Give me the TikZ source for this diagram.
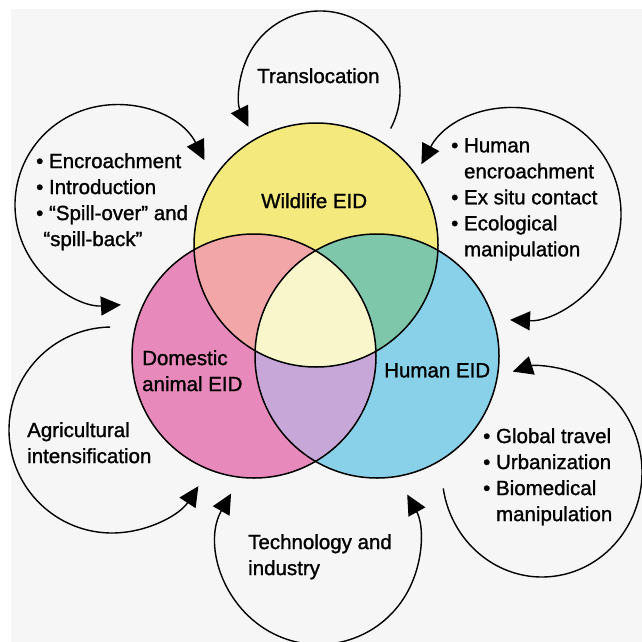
\documentclass[tikz,border=0pt]{standalone}
\usepackage{fontspec}
\setmainfont{Liberation Sans}
\newfontfamily\lblfont{Liberation Sans}[FakeBold=1.2]
\usetikzlibrary{arrows.meta,calc}
\definecolor{bgg}{HTML}{F6F6F6}
\definecolor{cwild}{HTML}{F4E97C}
\definecolor{cdom}{HTML}{E889BC}
\definecolor{chum}{HTML}{88D1E8}
\definecolor{cwd}{HTML}{F2A6A8}
\definecolor{cwh}{HTML}{7EC7AA}
\definecolor{cdh}{HTML}{C6A7D8}
\definecolor{call}{HTML}{F8F6CA}
\begin{document}
\begin{tikzpicture}[x=1pt,y=-1pt,
  lbl/.style={font=\lblfont\fontsize{20.5}{26}\selectfont, inner sep=0pt, align=left, anchor=north west},
  loopline/.style={line width=1.4pt, draw=black},
  venn/.style={line width=1.5pt, draw=black},
  >={Triangle[length=20pt,width=19pt]}]
\useasboundingbox (0,0) rectangle (642,642);
\fill[white] (0,0) rectangle (642,642);
\fill[bgg] (11,9) rectangle (642,642);
% centres
\coordinate (wc) at (316,245);
\coordinate (dc) at (254,356);
\coordinate (hc) at (377,356);
\def\R{122}
% fills
\fill[cwild] (wc) circle[radius=\R];
\fill[cdom] (dc) circle[radius=\R];
\fill[chum] (hc) circle[radius=\R];
\begin{scope}
  \clip (dc) circle[radius=\R];
  \fill[cdh] (hc) circle[radius=\R];
\end{scope}
\begin{scope}
  \clip (wc) circle[radius=\R];
  \fill[cwd] (dc) circle[radius=\R];
  \fill[cwh] (hc) circle[radius=\R];
  \clip (dc) circle[radius=\R];
  \fill[call] (hc) circle[radius=\R];
\end{scope}
\draw[venn] (wc) circle[radius=\R];
\draw[venn] (dc) circle[radius=\R];
\draw[venn] (hc) circle[radius=\R];
% loop centres
\coordinate (tc) at (320,91);
\coordinate (ec) at (115,205);
\coordinate (hec) at (515,214);
\coordinate (ac) at (112,430);
\coordinate (tic) at (318,543);
\coordinate (gc) at (542,472);
% loops
\draw[loopline,->] ($(tc)+(28:80)$) arc[start angle=28, end angle=-206.6, radius=80];
\draw[loopline,<->] ($(ec)+(-26.6:100)$) arc[start angle=-26.6, end angle=-273.4, radius=100];
\draw[loopline,<->] ($(hec)+(208:106)$) arc[start angle=208, end angle=452.7, radius=106];
\draw[loopline,->] ($(ac)+(269:103)$) arc[start angle=269, end angle=33, radius=103];
\draw[loopline,<->] ($(tic)+(209.6:100)$) arc[start angle=209.6, end angle=-29, radius=101];
\draw[loopline,->] ($(gc)+({100*cos(171)},{105*sin(171)})$) arc[start angle=171, end angle=-107, x radius=100, y radius=105];
% labels
\node[lbl] (ltrans) at (257,68) {Translocation};
\node[lbl] (lwild) at (261,193) {Wildlife EID};
\node[lbl] (ldom) at (142,350) {Domestic\\animal EID};
\node[lbl] (lhum) at (384,363) {Human EID};
\node[lbl] (lenc) at (36,153) {\textbullet\ Encroachment\\\textbullet\ Introduction\\\textbullet\ “Spill-over” and\\\phantom{\textbullet}“spill-back”};
\node[lbl] (lhenc) at (451,138) {\textbullet\ Human\\\phantom{\textbullet\ }encroachment\\\textbullet\ Ex situ contact\\\textbullet\ Ecological\\\phantom{\textbullet\ }manipulation};
\node[lbl] (lagr) at (27,422) {Agricultural\\intensification};
\node[lbl] (ltech) at (248,534) {Technology and\\industry};
\node[lbl] (lglob) at (483,428) {\textbullet\ Global travel\\\textbullet\ Urbanization\\\textbullet\ Biomedical\\\phantom{\textbullet\ }manipulation};
\end{tikzpicture}
\end{document}
